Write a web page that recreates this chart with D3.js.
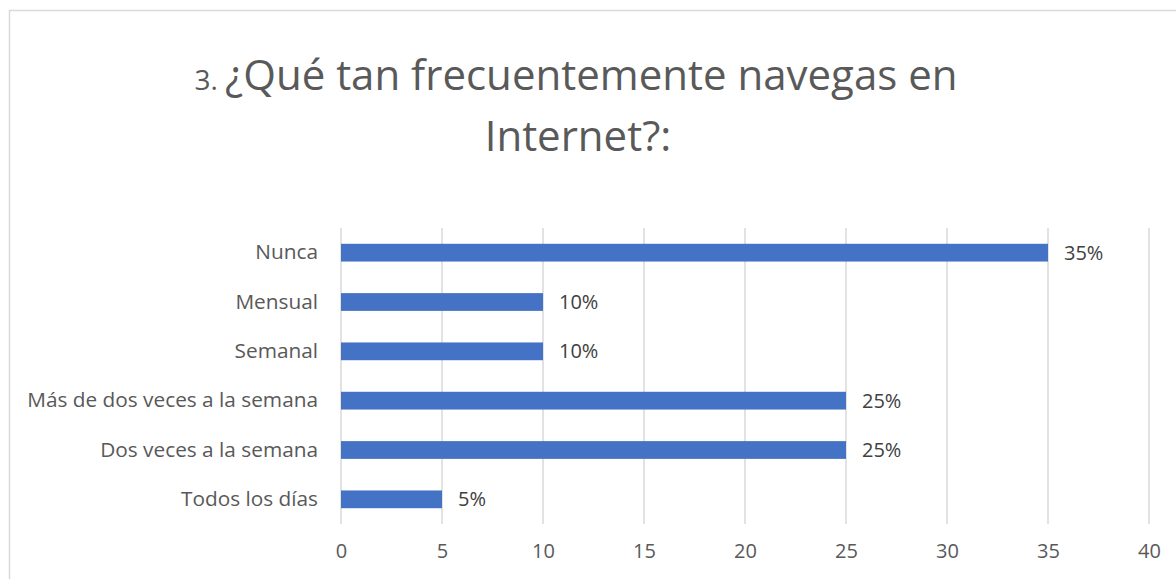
<!DOCTYPE html>
<html>
<head>
<meta charset="utf-8">
<script src="https://cdn.jsdelivr.net/npm/d3@7"></script>
<style>
  body { margin: 0; background: #fff; }
  text { font-family: "Open Sans", "Noto Sans", sans-serif; }
</style>
</head>
<body>
<div id="chart"></div>
<script>
// data
var categories = ['Nunca', 'Mensual', 'Semanal', 'Más de dos veces a la semana', 'Dos veces a la semana', 'Todos los días'];
var values = [35, 10, 10, 25, 25, 5];
var valueLabels = ['35%', '10%', '10%', '25%', '25%', '5%'];
var xTicks = [0, 5, 10, 15, 20, 25, 30, 35, 40];

var width = 1176;
var height = 579;
var labelSize = '20px';

var svg = d3.select('div#chart')
    .append('svg')
    .attr('width', width)
    .attr('height', height);

// chart area border
svg.append('rect')
    .attr('x', 9.5)
    .attr('y', 10.5)
    .attr('width', 1180)
    .attr('height', 600)
    .attr('fill', 'white')
    .attr('stroke', '#d9d9d9')
    .attr('stroke-width', 1.5);

// title
var title = svg.append('text')
    .attr('x', 576)
    .attr('y', 90)
    .attr('fill', '#595959')
    .style('text-anchor', 'middle');
title.append('tspan').style('font-size', '28px').text('3. ');
title.append('tspan').style('font-size', '42px').text('¿Qué tan frecuentemente navegas en');
svg.append('text')
    .attr('x', 578)
    .attr('y', 151)
    .attr('fill', '#595959')
    .style('text-anchor', 'middle')
    .style('font-size', '42px')
    .text('Internet?:');

var x = d3.scaleLinear()
    .domain([0, 40])
    .range([341, 1149]);

var y = d3.scaleBand()
    .domain(categories)
    .range([228, 524])
    .paddingInner(0.64)
    .paddingOuter(0.32);

// vertical gridlines
svg.append('g')
    .selectAll('line')
    .data(xTicks)
    .enter()
    .append('line')
    .attr('x1', d => x(d))
    .attr('x2', d => x(d))
    .attr('y1', 228)
    .attr('y2', 524)
    .attr('stroke', '#d9d9d9')
    .attr('stroke-width', 1.5);

// x axis tick labels
var xAxis = svg.append('g')
    .attr('transform', 'translate(0,' + 524 + ')')
    .call(d3.axisBottom(x).tickValues(xTicks).tickSize(0).tickPadding(20));
xAxis.select('.domain').remove();
xAxis.selectAll('text')
    .attr('fill', '#595959')
    .style('font-family', '"Open Sans", "Noto Sans", sans-serif')
    .style('font-size', labelSize);

// y axis category labels
var yAxis = svg.append('g')
    .attr('transform', 'translate(' + 341 + ',0)')
    .call(d3.axisLeft(y).tickSize(0).tickPadding(23));
yAxis.select('.domain').remove();
yAxis.selectAll('text')
    .attr('fill', '#595959')
    .style('font-family', '"Open Sans", "Noto Sans", sans-serif')
    .style('font-size', '20.8px');

// bars
svg.append('g')
    .selectAll('rect')
    .data(values)
    .enter()
    .append('rect')
    .attr('x', x(0))
    .attr('y', (d, i) => y(categories[i]))
    .attr('width', d => x(d) - x(0))
    .attr('height', y.bandwidth())
    .attr('fill', '#4472c4');

// value labels
svg.append('g')
    .selectAll('text')
    .data(values)
    .enter()
    .append('text')
    .attr('x', d => x(d) + 16)
    .attr('y', (d, i) => y(categories[i]) + y.bandwidth() / 2)
    .attr('dy', '0.35em')
    .attr('fill', '#404040')
    .style('font-size', labelSize)
    .text((d, i) => valueLabels[i]);
</script>
</body>
</html>
